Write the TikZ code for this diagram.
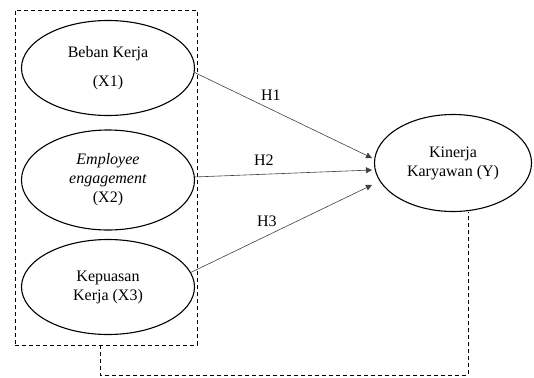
\documentclass[tikz,border=0pt]{standalone}
\usepackage{fontspec}
\setmainfont{Liberation Serif}
\usetikzlibrary{arrows.meta,shapes.geometric}

\begin{document}
\begin{tikzpicture}[x=1pt,y=-1pt,
    var/.style={draw, ellipse, line width=1.1pt, minimum width=173pt, minimum height=95pt, inner sep=0pt, align=center, font=\fontsize{16}{19}\selectfont},
    hyp/.style={-{Triangle[length=6pt,width=6pt]}, line width=0.6pt, black!75},
    lab/.style={font=\fontsize{16}{19}\selectfont, text=black, above=5pt},
    link/.style={dash pattern=on 4pt off 3pt, line width=0.8pt}]
    \useasboundingbox (0,0) rectangle (534,377);

    \node[draw, link, minimum width=182pt, minimum height=335pt, inner sep=0pt] (grp) at (106,177.5) {};

    \node[var] (x1) at (108,68) {Beban Kerja\\[10pt](X1)};
    \node[var, minimum height=100pt] (x2) at (108,180) {\textit{Employee}\\\textit{engagement}\\(X2)};
    \node[var] (x3) at (108,287) {Kepuasan\\Kerja (X3)};
    \node[var, minimum width=157pt, minimum height=97pt] (y) at (453,163) {Kinerja\\Karyawan (Y)};

    \draw[hyp] (x1.-3) -- ([xshift=-2pt,yshift=5pt]y.west) node[lab, pos=.43] (h1) {H1};
    \draw[hyp] (x2.2) -- ([xshift=-2pt,yshift=-7pt]y.west) node[lab, pos=.39] (h2) {H2};
    \draw[hyp] (x3.10) -- ([xshift=-2pt,yshift=-22pt]y.west) node[lab, pos=.42] (h3) {H3};

    \draw[link] ([xshift=-6pt]grp.south) -- ++(0,30) -| ([xshift=15pt]y.south);
\end{tikzpicture}
\end{document}
